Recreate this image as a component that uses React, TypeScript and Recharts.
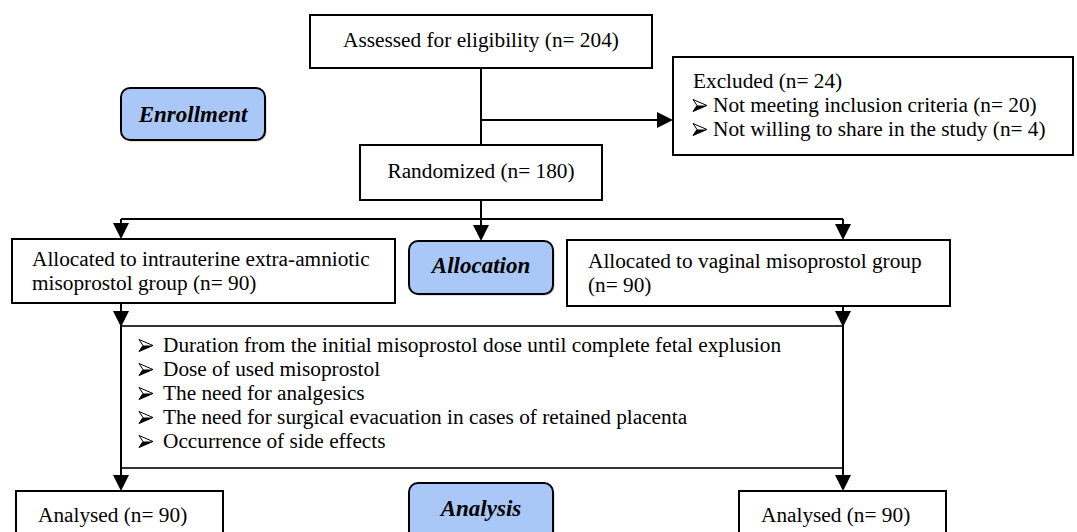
import React from "react";
import {
  ReferenceArea,
  ReferenceLine,
  Scatter,
  ScatterChart,
  XAxis,
  YAxis
} from "recharts";

/* ────────────────────────────────────────────────────────────
 * Flow text (CONSORT diagram)
 * ──────────────────────────────────────────────────────────── */

const ASSESSED = ["Assessed for eligibility (n= 204)"];
const EXCLUDED = ["Excluded (n= 24)"];
const EXCLUDED_REASONS = [
  "Not meeting inclusion criteria (n= 20)",
  "Not willing to share in the study (n= 4)",
];
const RANDOMIZED = ["Randomized (n= 180)"];
const GROUP_A = ["Allocated to intrauterine extra-amniotic", "misoprostol group (n= 90)"];
const GROUP_B = ["Allocated to vaginal misoprostol group", "(n= 90)"];
const OUTCOMES = [
  "Duration from the initial misoprostol dose until complete fetal explusion",
  "Dose of used misoprostol",
  "The need for analgesics",
  "The need for surgical evacuation in cases of retained placenta",
  "Occurrence of side effects",
];
const ANALYSED_A = ["Analysed (n= 90)"];
const ANALYSED_B = ["Analysed (n= 90)"];
const STAGES = ["Enrollment", "Allocation", "Analysis"];

/* ────────────────────────────────────────────────────────────
 * Layout in diagram units (1 unit = 1 px of the 1077×532 canvas)
 * ──────────────────────────────────────────────────────────── */

type Box = {
  id: string;
  x1: number;
  x2: number;
  y1: number;
  y2: number;
  lines: string[];
  bullets?: string[];
  kind: "plain" | "stage" | "open";
  align: "left" | "center";
  padX: number;
  baseline: number;
  indent?: number;
};

const BOXES: Box[] = [
  { id: "assessed", x1: 310, x2: 652, y1: 15, y2: 68, lines: ASSESSED, kind: "plain", align: "center", padX: 0, baseline: 32 },
  { id: "excluded", x1: 673, x2: 1073, y1: 57, y2: 155, lines: EXCLUDED, bullets: EXCLUDED_REASONS, kind: "plain", align: "left", padX: 20, baseline: 31, indent: 20 },
  { id: "randomized", x1: 360, x2: 602, y1: 145, y2: 200, lines: RANDOMIZED, kind: "plain", align: "center", padX: 0, baseline: 33 },
  { id: "groupA", x1: 12, x2: 395, y1: 239, y2: 303, lines: GROUP_A, kind: "plain", align: "left", padX: 20, baseline: 27 },
  { id: "groupB", x1: 567, x2: 950, y1: 240, y2: 306, lines: GROUP_B, kind: "plain", align: "left", padX: 21, baseline: 28 },
  { id: "outcomes", x1: 121, x2: 843, y1: 326, y2: 468, lines: [], bullets: OUTCOMES, kind: "open", align: "left", padX: 18, baseline: 26, indent: 24 },
  { id: "analysedA", x1: 16, x2: 223, y1: 491, y2: 545, lines: ANALYSED_A, kind: "plain", align: "left", padX: 22, baseline: 31 },
  { id: "analysedB", x1: 739, x2: 946, y1: 491, y2: 545, lines: ANALYSED_B, kind: "plain", align: "left", padX: 22, baseline: 31 },
  { id: "enrollment", x1: 121, x2: 265, y1: 88, y2: 140, lines: [STAGES[0]], kind: "stage", align: "center", padX: 0, baseline: 34 },
  { id: "allocation", x1: 409, x2: 553, y1: 241, y2: 294, lines: [STAGES[1]], kind: "stage", align: "center", padX: 0, baseline: 32 },
  { id: "analysis", x1: 409, x2: 553, y1: 483, y2: 545, lines: [STAGES[2]], kind: "stage", align: "center", padX: 0, baseline: 33 },
];

/* connectors: [x1, y1, x2, y2] */
const LINKS: [number, number, number, number][] = [
  [481, 68, 481, 145],
  [481, 120, 660, 120],
  [481, 200, 481, 219],
  [121, 219, 843, 219],
  [121, 219, 121, 228],
  [481, 219, 481, 230],
  [843, 219, 843, 229],
  [121, 303, 121, 480],
  [843, 306, 843, 480],
];

/* arrow tips */
const ARROW_TIPS = [
  { x: 673, y: 120, dir: "right" },
  { x: 121, y: 239, dir: "down" },
  { x: 481, y: 241, dir: "down" },
  { x: 843, y: 240, dir: "down" },
  { x: 121, y: 327, dir: "down" },
  { x: 843, y: 327, dir: "down" },
  { x: 121, y: 491, dir: "down" },
  { x: 843, y: 491, dir: "down" },
];

const FONT = "'Liberation Serif', 'Times New Roman', serif";
const FONT_SIZE = 21.3;
const LINE_GAP = 24;
const STAGE_FILL = "#a9c8f8";

/* ────────────────────────────────────────────────────────────
 * Shapes
 * ──────────────────────────────────────────────────────────── */

/** Wingdings-style 3D arrowhead bullet (➢), drawn as a path */
function Bullet({ x, y }: { x: number; y: number }) {
  const cy = y - 6.5;
  return (
    <g>
      <path d={`M${x},${cy - 6} L${x + 14},${cy} L${x},${cy + 6} L${x + 4},${cy} Z`} fill="#fff" stroke="#000" strokeWidth={1} strokeLinejoin="miter" />
      <path d={`M${x + 4},${cy} L${x + 14},${cy} L${x},${cy + 6} Z`} fill="#000" />
    </g>
  );
}

function BoxShape(props: any) {
  const { x, y, width, height, box } = props as { x: number; y: number; width: number; height: number; box: Box };
  const tx = box.align === "center" ? x + width / 2 : x + box.padX;
  const anchor = box.align === "center" ? "middle" : "start";
  const isStage = box.kind === "stage";
  return (
    <g>
      {isStage && (
        <rect x={x + 1.5} y={y + 1.5} width={width} height={height} rx={9} fill="#777" opacity={0.45} />
      )}
      <rect
        x={x}
        y={y}
        width={width}
        height={height}
        rx={isStage ? 9 : 0}
        fill={isStage ? STAGE_FILL : "#fff"}
        stroke="#000"
        strokeWidth={box.kind === "open" ? 1.6 : 2}
      />
      {box.lines.map((t, i) => (
        <text
          key={`l${i}`}
          x={tx}
          y={y + box.baseline + i * LINE_GAP}
          textAnchor={anchor}
          fontFamily={FONT}
          fontSize={isStage ? 23 : FONT_SIZE}
          fontWeight={isStage ? "bold" : "normal"}
          fontStyle={isStage ? "italic" : "normal"}
          fill="#000"
        >
          {t}
        </text>
      ))}
      {(box.bullets ?? []).map((t, i) => {
        const by = y + box.baseline + (box.lines.length + i) * LINE_GAP;
        return (
          <g key={`b${i}`}>
            <Bullet x={tx} y={by} />
            <text x={tx + (box.indent ?? 20)} y={by} fontFamily={FONT} fontSize={FONT_SIZE} fill="#000">
              {t}
            </text>
          </g>
        );
      })}
    </g>
  );
}

function Arrowhead(props: any) {
  const { cx, cy, payload } = props;
  const half = 8;
  const len = 16;
  const d =
    payload.dir === "right"
      ? `M${cx},${cy} L${cx - len},${cy - half} L${cx - len},${cy + half} Z`
      : `M${cx},${cy} L${cx - half},${cy - len} L${cx + half},${cy - len} Z`;
  return <path d={d} fill="#000" />;
}

/* ────────────────────────────────────────────────────────────
 * Component
 * ──────────────────────────────────────────────────────────── */

export default function App() {
  return (
    <div style={{ position: "absolute", left: 0, top: 0, width: 1077, height: 532, background: "#fff" }}>
      <ScatterChart width={1077} height={532} margin={{ top: 0, right: 0, bottom: 0, left: 0 }}>
        <XAxis type="number" dataKey="x" domain={[0, 1077]} hide allowDataOverflow />
        <YAxis type="number" dataKey="y" domain={[0, 532]} reversed hide allowDataOverflow />

        {LINKS.map(([x1, y1, x2, y2], i) => (
          <ReferenceLine
            key={`link${i}`}
            segment={[
              { x: x1, y: y1 },
              { x: x2, y: y2 },
            ]}
            stroke="#000"
            strokeWidth={2}
            ifOverflow="visible"
          />
        ))}

        {BOXES.map((b) => (
          <ReferenceArea
            key={b.id}
            x1={b.x1}
            x2={b.x2}
            y1={b.y1}
            y2={b.y2}
            ifOverflow="visible"
            shape={(p: any) => <BoxShape {...p} box={b} />}
          />
        ))}

        <Scatter data={ARROW_TIPS} shape={Arrowhead} isAnimationActive={false} />
      </ScatterChart>
    </div>
  );
}
